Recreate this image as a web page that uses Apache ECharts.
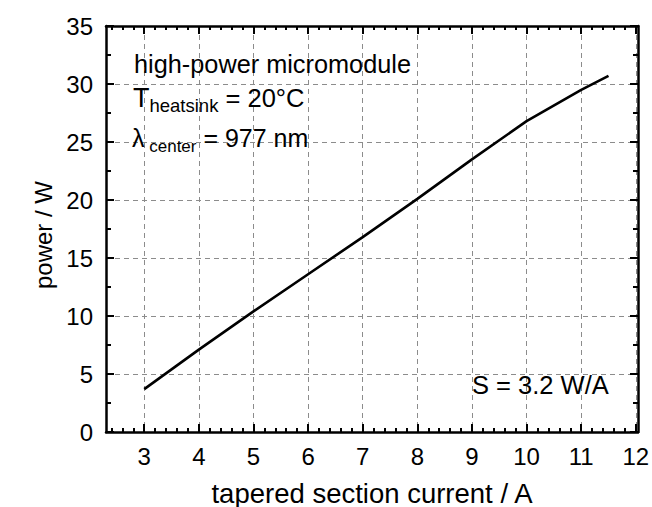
<!DOCTYPE html>
<html>
<head>
<meta charset="utf-8">
<script src="https://cdn.jsdelivr.net/npm/echarts@6/dist/echarts.min.js"></script>
<style>
html,body{margin:0;padding:0;background:#fff;overflow:hidden;}
#chart{width:652px;height:507px;}
</style>
</head>
<body>
<div id="chart"></div>
<script>
// data
const current = [3, 4, 5, 6, 7, 8, 9, 10, 11, 11.5];
const power = [3.7, 7.1, 10.4, 13.6, 16.8, 20.1, 23.5, 26.8, 29.5, 30.7];
const xTicks = [3, 4, 5, 6, 7, 8, 9, 10, 11, 12];
const xMinorTicks = [2.4, 2.6, 2.8];
xTicks.forEach(function (t) { if (t < 12) { [0.2, 0.4, 0.6, 0.8].forEach(function (d) { xMinorTicks.push(+(t + d).toFixed(1)); }); } });
const xMin = 2.3, xMax = 12.04;
const yMin = 0, yMax = 35, yStep = 5;

const FONT = '"Liberation Sans", Arial, Helvetica, sans-serif';
const chart = echarts.init(document.getElementById('chart'), null, {renderer: 'svg'});

function xAxisDef(pos, major, withLabels) {
  return {
    type: 'value', position: pos, min: xMin, max: xMax,
    axisLine: {show: major, onZero: false, lineStyle: {color: '#000', width: 2.5}},
    axisTick: {show: true, inside: true, length: major ? 8 : 4, lineStyle: {color: '#000', width: 2},
      customValues: major ? xTicks : xMinorTicks},
    axisLabel: {show: withLabels, customValues: xTicks, color: '#000', fontSize: 24, fontFamily: FONT, margin: 12},
    splitLine: {show: withLabels, lineStyle: {color: '#8c8c8c', type: [5, 4], width: 1}},
    minorTick: {show: false}, minorSplitLine: {show: false}
  };
}
function yAxisDef(pos, withLabels) {
  return {
    type: 'value', position: pos, min: yMin, max: yMax, interval: yStep,
    axisLine: {show: true, onZero: false, lineStyle: {color: '#000', width: 2.5}},
    axisTick: {show: true, inside: true, length: 8, lineStyle: {color: '#000', width: 2}},
    minorTick: {show: true, splitNumber: 2, length: 5, lineStyle: {color: '#000', width: 2}},
    axisLabel: {show: withLabels, color: '#000', fontSize: 24, fontFamily: FONT, margin: 13},
    splitLine: {show: withLabels, lineStyle: {color: '#8c8c8c', type: [5, 4], width: 1}}
  };
}

const xs = [xAxisDef('bottom', true, true), xAxisDef('bottom', false, false), xAxisDef('top', true, false), xAxisDef('top', false, false)];
xs[0].name = 'tapered section current / A';
xs[0].nameLocation = 'middle';
xs[0].nameGap = 47;
xs[0].nameTextStyle = {color: '#000', fontSize: 27.5, fontFamily: FONT};
const ys = [yAxisDef('left', true), yAxisDef('right', false)];
ys[0].name = 'power / W';
ys[0].nameLocation = 'middle';
ys[0].nameGap = 50;
ys[0].nameTextStyle = {color: '#000', fontSize: 24, fontFamily: FONT, padding: [0, 12, 0, 0]};

const txt = {fill: '#000', fontFamily: FONT};
chart.setOption({
  animation: false,
  backgroundColor: '#fff',
  grid: {left: 106, right: 14, top: 26, bottom: 75, containLabel: false, outerBoundsMode: 'none'},
  xAxis: xs,
  yAxis: ys,
  series: [{
    type: 'line', xAxisIndex: 0, yAxisIndex: 0, symbol: 'none', smooth: false,
    lineStyle: {color: '#000', width: 2.6}, z: 5,
    data: current.map(function (c, i) { return [c, power[i]]; })
  }],
  graphic: [
    {type: 'text', left: 134, top: 51, z: 10, style: Object.assign({text: 'high-power micromodule', fontSize: 25.3}, txt)},
    {type: 'text', left: 133, top: 84.6, z: 10, style: Object.assign({
      text: '{t|T}{s|heatsink}{m| = 20°C}',
      rich: {
        t: {fontSize: 27, lineHeight: 27, padding: [0, 0, 3.5, 0], verticalAlign: 'bottom', fontFamily: FONT, color: '#000'},
        s: {fontSize: 18.5, lineHeight: 18.5, verticalAlign: 'bottom', fontFamily: FONT, color: '#000'},
        m: {fontSize: 25.5, lineHeight: 25.5, padding: [0, 0, 3.8, 0], verticalAlign: 'bottom', fontFamily: FONT, color: '#000'}
      }}, txt)},
    {type: 'text', left: 132, top: 125.8, z: 10, style: Object.assign({
      text: '{t|λ}{s| center}{m| = 977 nm}',
      rich: {
        t: {fontSize: 25, lineHeight: 25, padding: [0, 0, 3.8, 0], verticalAlign: 'bottom', fontFamily: FONT, color: '#000'},
        s: {fontSize: 17, lineHeight: 17, verticalAlign: 'bottom', fontFamily: FONT, color: '#000'},
        m: {fontSize: 25, lineHeight: 25, padding: [0, 0, 3.8, 0], verticalAlign: 'bottom', fontFamily: FONT, color: '#000'}
      }}, txt)},
    {type: 'text', left: 472, top: 372, z: 10, style: Object.assign({text: 'S = 3.2 W/A', fontSize: 25.5}, txt)}
  ]
});
</script>
</body>
</html>
